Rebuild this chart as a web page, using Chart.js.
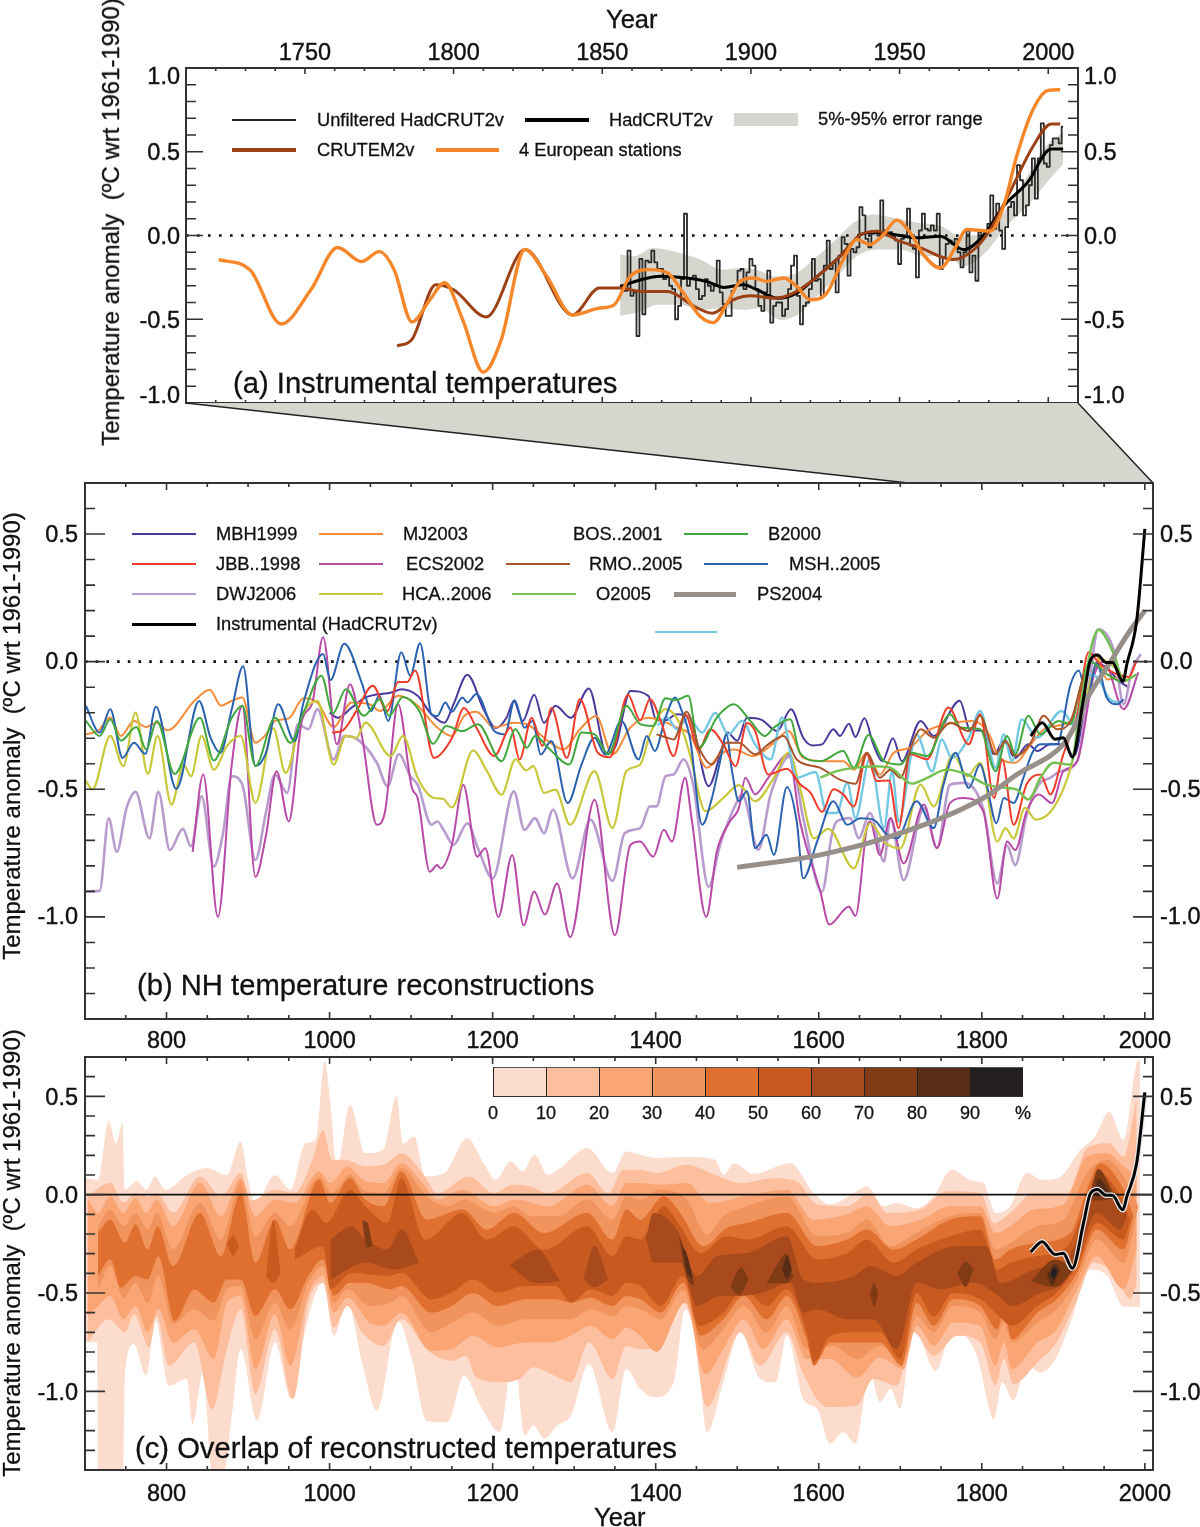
<!DOCTYPE html>
<html>
<head>
<meta charset="utf-8">
<script src="https://cdn.jsdelivr.net/npm/chart.js@4"></script>
<style>
  html, body { margin: 0; padding: 0; background: #fff; }
  #page { position: relative; width: 1200px; height: 1527px; overflow: hidden; font-family: "Liberation Sans", Arial, sans-serif; color: #111; }
  canvas { position: absolute; left: 0; }
  .txt { position: absolute; white-space: pre; line-height: 1; -webkit-text-stroke: 0.3px #111; }
  .key { position: absolute; }
</style>
</head>
<body>
<div id="page">
  <canvas id="panelA" width="1200" height="405" style="top:0"></canvas>
  <canvas id="panelB" width="1200" height="652" style="top:402px"></canvas>
  <canvas id="panelC" width="1200" height="477" style="top:1050px"></canvas>
</div>
<script>
const yearTicksTop = [1750, 1800, 1850, 1900, 1950, 2000];
const yearTicksBottom = [800, 1000, 1200, 1400, 1600, 1800, 2000];
const tempTicksA = [-1, -0.5, 0, 0.5, 1];
const tempTicksBC = [-1, -0.5, 0, 0.5];

// ---- panel (a) instrumental
const unfilteredStart = 1856;
const unfilteredHadcrut = [
  -.30,-.31,-.33,-.09,-.36,-.34,-.60,-.14,-.47,-.15,-.16,-.09,-.16,-.20,-.20,-.26,-.24,-.30,-.32,-.50,
  -.42,-.26,.13,-.30,-.26,-.24,-.32,-.38,-.36,-.26,-.30,-.33,-.30,-.15,-.34,-.41,-.48,-.48,-.33,-.30,
  -.21,-.20,-.32,-.22,-.14,-.18,-.32,-.42,-.45,-.34,-.21,-.52,-.42,-.40,-.40,-.48,-.44,-.32,-.18,-.12,
  -.36,-.53,-.42,-.40,-.32,-.14,-.27,-.26,-.36,-.18,-.03,-.20,-.16,-.34,-.12,-.01,-.05,-.24,-.08,-.10,
  -.07,.17,.12,-.02,-.07,.01,.02,.00,.21,.03,.00,.02,.00,-.03,-.17,-.02,.00,.16,-.06,-.08,
  -.25,.03,.13,.04,.03,.06,.03,.13,-.20,-.13,-.05,-.03,-.05,-.02,-.10,-.19,-.10,.03,-.22,-.12,
  -.27,.02,-.02,.03,.07,.24,.04,.19,.03,-.08,.05,.17,.20,.12,.42,.33,.12,.18,.30,.46,
  .22,.46,.67,.43,.41,.54,.58,.58,.55,.65
];
const hadcrutSmooth = [[1856,-.304],[1863,-.264],[1869.5,-.244],[1878.4,-.254],[1885,-.274],[1891,-.31],[1897.5,-.294],[1902,-.324],[1909,-.374],[1915.4,-.344],[1921,-.264],[1930,-.124],[1937,.006],[1941,.02],[1948,.006],[1956,-.014],[1963.7,-.004],[1971.5,-.084],[1978,-.004],[1985,.176],[1993,.316],[2001,.516],[2005,.516]];
const crutem = [[1781,-.66],[1786,-.62],[1794,-.294],[1800,-.324],[1811,-.486],[1824,-.084],[1840,-.474],[1849,-.314],[1856,-.314],[1863,-.334],[1872,-.334],[1881,-.424],[1887,-.464],[1894,-.384],[1900,-.36],[1908,-.374],[1914.3,-.344],[1921,-.264],[1930,-.124],[1937,.006],[1942.3,.026],[1950,-.034],[1957,-.074],[1968,-.144],[1975,-.084],[1980.5,.036],[1987,.256],[1995,.536],[2001,.666],[2004,.666]];
const europeanStations = [[1721,-.144],[1731.5,-.204],[1742,-.528],[1752,-.324],[1761,-.072],[1769,-.156],[1775,-.096],[1780,-.204],[1786,-.516],[1792,-.384],[1797,-.282],[1803,-.5],[1810,-.816],[1816,-.624],[1824,-.084],[1831,-.234],[1840,-.474],[1849,-.434],[1854,-.414],[1859.4,-.244],[1866,-.204],[1872,-.224],[1877.3,-.344],[1883,-.484],[1887.4,-.52],[1892,-.404],[1896.4,-.274],[1901,-.254],[1905.4,-.274],[1911,-.254],[1915.4,-.304],[1920,-.384],[1925.5,-.344],[1931,-.144],[1935.6,-.024],[1940,-.054],[1944.6,.006],[1949,.092],[1953.6,.016],[1958,-.114],[1963.7,-.194],[1969,-.064],[1972.6,.036],[1980.5,.026],[1985,.176],[1989.4,.476],[1995,.756],[2000,.866],[2004,.87]];
const errorUpper = [[1856,-.114],[1860.5,-.124],[1867,-.074],[1874,-.094],[1883,-.144],[1890,-.204],[1897.5,-.194],[1902,-.204],[1908,-.244],[1915.4,-.224],[1921,-.144],[1928,-.034],[1934.5,.076],[1941,.126],[1948,.106],[1956,.076],[1964,.056],[1970.4,-.004],[1978,.016],[1985,.136],[1993,.356],[1998.4,.516],[2005,.616]];
const errorLower = [[1856,-.48],[1863,-.454],[1868.4,-.414],[1876,-.414],[1883,-.444],[1890.8,-.434],[1897.5,-.444],[1903,-.434],[1910,-.504],[1916.5,-.464],[1921,-.384],[1928,-.264],[1935.6,-.124],[1942.3,-.084],[1950,-.084],[1958,-.124],[1966,-.124],[1971.5,-.184],[1979.3,-.094],[1986,.056],[1994,.196],[1999.5,.316],[2005,.426]];

// ---- panel (b) reconstructions
const mbh1999 = [[1000,-.2],[1010,-.22],[1027,-.18],[1044,-.14],[1077,-.12],[1088,-.108],[1108,-.134],[1125,-.206],[1141,-.239],[1152,-.167],[1169,-.051],[1189,-.187],[1204,-.26],[1217,-.22],[1226,-.154],[1237,-.232],[1251,-.13],[1263,-.24],[1277,-.173],[1296,-.22],[1318,-.105],[1340,-.363],[1351,-.33],[1369,-.115],[1391,-.134],[1401,-.23],[1412,-.23],[1426,-.206],[1442,-.22],[1465,-.488],[1479,-.365],[1488,-.278],[1500,-.31],[1512,-.22],[1530,-.228],[1549,-.272],[1566,-.186],[1581,-.298],[1592,-.328],[1604,-.324],[1618,-.265],[1626,-.291],[1637,-.243],[1645,-.295],[1656,-.222],[1667,-.324],[1678,-.39],[1691,-.3],[1702,-.39],[1725,-.232],[1741,-.291],[1773,-.153],[1786,-.27],[1800,-.27],[1815,-.363],[1827,-.311],[1841,-.377],[1857,-.324],[1868,-.35],[1884,-.324],[1900,-.324],[1913,-.37],[1929,-.14],[1945,-.01],[1970,-.08],[1980,-.1]];
const mj2003 = [[701,-.285],[716,-.271],[731,-.219],[744,-.291],[760,-.232],[775,-.256],[788,-.239],[801,-.269],[834,-.154],[853,-.11],[867,-.173],[876,-.16],[893,-.14],[909,-.318],[922,-.285],[933,-.232],[950,-.222],[968,-.143],[985,-.16],[1005,-.256],[1027,-.16],[1049,-.167],[1062,-.193],[1084,-.134],[1106,-.167],[1132,-.258],[1150,-.291],[1165,-.213],[1180,-.196],[1202,-.258],[1226,-.239],[1242,-.245],[1268,-.311],[1287,-.344],[1307,-.265],[1327,-.213],[1347,-.363],[1369,-.258],[1391,-.22],[1406,-.23],[1426,-.258],[1442,-.285],[1463,-.416],[1479,-.363],[1496,-.344],[1520,-.37],[1545,-.318],[1563,-.272],[1581,-.377],[1610,-.39],[1630,-.39],[1643,-.423],[1659,-.357],[1675,-.442],[1692,-.357],[1712,-.337],[1733,-.272],[1757,-.245],[1790,-.232],[1810,-.291],[1819,-.363],[1841,-.396],[1860,-.324],[1880,-.258],[1909,-.232],[1921,-.1],[1939,.03],[1954,-.07],[1970,-.06]];
const bos2001 = [[1402,-.25],[1414,-.219],[1426,-.265],[1440,-.219],[1457,-.278],[1473,-.2],[1489,-.285],[1506,-.232],[1522,-.324],[1541,-.383],[1555,-.219],[1573,-.455],[1596,-.432],[1610,-.593],[1622,-.593],[1635,-.475],[1645,-.613],[1663,-.377],[1680,-.652],[1690,-.429],[1698,-.626],[1720,-.285],[1739,-.43],[1751,-.305],[1763,-.377],[1784,-.298],[1798,-.193],[1817,-.416],[1827,-.285],[1837,-.39],[1849,-.226],[1868,-.298],[1898,-.193],[1913,-.245],[1929,-.05],[1941,-.06],[1958,-.15],[1970,-.16]];
const b2000 = [[701,-.232],[718,-.291],[731,-.226],[744,-.309],[763,-.256],[775,-.344],[788,-.232],[810,-.44],[841,-.22],[858,-.387],[880,-.22],[893,-.173],[909,-.409],[933,-.22],[952,-.318],[968,-.2],[990,-.055],[1004,-.203],[1020,-.108],[1042,-.212],[1062,-.147],[1073,-.212],[1090,-.138],[1110,-.193],[1127,-.322],[1143,-.252],[1163,-.272],[1182,-.245],[1211,-.39],[1228,-.265],[1242,-.337],[1252,-.291],[1268,-.337],[1294,-.403],[1309,-.278],[1325,-.285],[1342,-.363],[1364,-.173],[1381,-.245],[1397,-.252],[1412,-.143],[1424,-.151],[1440,-.134],[1453,-.337],[1475,-.219],[1496,-.167],[1516,-.232],[1534,-.291],[1545,-.258],[1565,-.226],[1577,-.357],[1602,-.39],[1630,-.35],[1643,-.416],[1661,-.287],[1680,-.39],[1700,-.403],[1714,-.357],[1733,-.37],[1761,-.206],[1774,-.258],[1798,-.265],[1817,-.429],[1831,-.291],[1841,-.363],[1857,-.212],[1872,-.285],[1894,-.232],[1909,-.245],[1921,-.1],[1933,0],[1954,-.05],[1970,-.08]];
const jbb1998 = [[1003,-.278],[1016,-.27],[1033,-.193],[1053,-.094],[1071,-.193],[1084,-.08],[1095,-.08],[1105,-.035],[1128,-.377],[1150,-.3],[1165,-.182],[1180,-.258],[1202,-.37],[1222,-.258],[1233,-.383],[1248,-.22],[1261,-.33],[1272,-.182],[1291,-.377],[1307,-.147],[1329,-.357],[1344,-.374],[1366,-.13],[1381,-.23],[1393,-.147],[1406,-.23],[1422,-.37],[1436,-.206],[1453,-.344],[1467,-.265],[1483,-.324],[1498,-.41],[1512,-.24],[1522,-.272],[1538,-.442],[1561,-.42],[1577,-.48],[1590,-.514],[1604,-.589],[1618,-.5],[1630,-.52],[1643,-.567],[1659,-.363],[1671,-.468],[1686,-.466],[1698,-.652],[1712,-.363],[1733,-.382],[1759,-.18],[1784,-.324],[1798,-.206],[1815,-.534],[1825,-.383],[1839,-.639],[1855,-.48],[1872,-.442],[1884,-.52],[1900,-.363],[1917,-.206],[1931,.037],[1945,-.01],[1966,-.05],[1980,-.06],[1990,.004]];
const ecs2002 = [[832,-.745],[845,-.442],[863,-1.0],[880,-.403],[893,-.173],[909,-.843],[922,-.68],[935,-.429],[950,-.626],[966,-.232],[979,-.16],[992,.096],[1009,-.324],[1025,-.088],[1040,-.298],[1058,-.639],[1068,-.587],[1084,-.167],[1101,-.495],[1108,-.534],[1123,-.823],[1132,-.797],[1136,-.81],[1150,-.718],[1164,-.482],[1181,-.764],[1191,-.731],[1207,-1.0],[1224,-.757],[1238,-1.033],[1251,-.9],[1264,-.991],[1279,-.869],[1295,-1.079],[1325,-.541],[1350,-1.072],[1369,-.718],[1381,-.705],[1397,-.764],[1410,-.659],[1420,-.705],[1436,-.455],[1444,-.613],[1462,-1.0],[1475,-.744],[1491,-.626],[1502,-.574],[1510,-.455],[1522,-.52],[1538,-.455],[1563,-.363],[1577,-.626],[1602,-.902],[1613,-1.03],[1637,-.96],[1645,-.996],[1659,-.652],[1663,-.626],[1675,-.757],[1688,-.613],[1704,-.79],[1729,-.56],[1745,-.73],[1761,-.554],[1778,-.534],[1802,-.587],[1819,-.928],[1831,-.705],[1841,-.738],[1855,-.587],[1870,-.52],[1886,-.554],[1900,-.43],[1917,-.39],[1937,-.06],[1950,.0],[1974,-.186],[1992,-.042]];
const rmo2005 = [[1401,-.285],[1414,-.298],[1422,-.305],[1438,-.196],[1453,-.337],[1469,-.403],[1487,-.318],[1502,-.318],[1522,-.363],[1538,-.324],[1557,-.291],[1573,-.383],[1602,-.416],[1626,-.462],[1645,-.478],[1659,-.357],[1675,-.455],[1688,-.423],[1700,-.455],[1716,-.311],[1725,-.265],[1741,-.298],[1761,-.239],[1784,-.272],[1798,-.212],[1817,-.363],[1829,-.311],[1841,-.37],[1860,-.318],[1876,-.212],[1892,-.265],[1909,-.232],[1925,-.05]];
const msh2005 = [[701,-.173],[718,-.278],[731,-.186],[746,-.377],[760,-.318],[774,-.361],[787,-.177],[812,-.499],[840,-.154],[854,-.298],[866,-.357],[880,-.186],[894,-.018],[909,-.409],[922,-.357],[937,-.167],[957,-.311],[968,-.16],[992,.03],[1001,-.072],[1018,.07],[1040,-.088],[1051,-.193],[1061,-.134],[1072,-.232],[1088,.037],[1099,-.055],[1111,.072],[1125,-.206],[1132,-.213],[1142,-.16],[1150,-.196],[1163,-.14],[1169,-.16],[1180,-.127],[1202,-.272],[1215,-.285],[1227,-.151],[1239,-.259],[1249,-.232],[1259,-.364],[1272,-.311],[1292,-.554],[1309,-.403],[1325,-.298],[1338,-.364],[1358,-.232],[1379,-.383],[1389,-.291],[1399,-.35],[1412,-.219],[1424,-.14],[1432,-.193],[1442,-.298],[1457,-.639],[1469,-.534],[1479,-.39],[1487,-.285],[1493,-.416],[1502,-.547],[1512,-.508],[1522,-.731],[1536,-.678],[1545,-.757],[1561,-.491],[1573,-.626],[1581,-.849],[1598,-.705],[1618,-.547],[1635,-.639],[1651,-.613],[1667,-.619],[1684,-.678],[1696,-.692],[1720,-.547],[1741,-.652],[1753,-.482],[1768,-.357],[1784,-.495],[1798,-.403],[1806,-.482],[1818,-.633],[1827,-.534],[1839,-.554],[1851,-.455],[1862,-.357],[1872,-.324],[1892,-.324],[1909,-.088],[1919,-.035],[1929,-.14],[1941,-.003],[1953,-.14],[1966,-.167],[1974,-.147]];
const dwj2006 = [[700,-.9],[718,-.898],[729,-.614],[739,-.745],[751,-.573],[762,-.51],[779,-.692],[790,-.51],[804,-.738],[820,-.655],[830,-.724],[843,-.527],[858,-.803],[869,-.678],[880,-.449],[893,-.482],[909,-.777],[922,-.59],[933,-.442],[948,-.514],[961,-.245],[974,-.265],[985,-.186],[1005,-.383],[1018,-.291],[1031,-.298],[1058,-.396],[1071,-.488],[1085,-.363],[1099,-.449],[1108,-.482],[1125,-.639],[1132,-.626],[1141,-.665],[1152,-.718],[1169,-.633],[1182,-.731],[1200,-.849],[1226,-.508],[1239,-.659],[1252,-.613],[1263,-.672],[1274,-.58],[1298,-.849],[1320,-.619],[1347,-.859],[1362,-.672],[1381,-.652],[1393,-.567],[1401,-.567],[1412,-.449],[1422,-.442],[1434,-.383],[1446,-.482],[1465,-.882],[1479,-.718],[1500,-.547],[1506,-.52],[1526,-.737],[1541,-.52],[1565,-.37],[1581,-.613],[1604,-.902],[1616,-.679],[1622,-.626],[1639,-.613],[1649,-.692],[1663,-.593],[1680,-.783],[1688,-.613],[1704,-.856],[1729,-.573],[1745,-.73],[1761,-.482],[1778,-.475],[1802,-.58],[1819,-.869],[1831,-.72],[1841,-.797],[1855,-.6],[1870,-.48],[1884,-.455],[1896,-.43],[1917,-.39],[1931,-.1],[1943,.127],[1962,.043],[1974,-.167],[1984,-.035],[1995,.03]];
const hca2006 = [[701,-.466],[709,-.501],[731,-.291],[747,-.409],[762,-.2],[777,-.44],[789,-.291],[806,-.56],[821,-.403],[830,-.449],[843,-.291],[858,-.423],[874,-.331],[891,-.291],[909,-.554],[931,-.261],[946,-.436],[966,-.213],[985,-.154],[1005,-.403],[1020,-.291],[1033,-.298],[1044,-.239],[1075,-.37],[1090,-.291],[1108,-.455],[1128,-.534],[1139,-.537],[1150,-.571],[1176,-.348],[1193,-.429],[1211,-.521],[1228,-.383],[1241,-.426],[1250,-.409],[1263,-.514],[1277,-.501],[1295,-.639],[1325,-.429],[1347,-.652],[1364,-.429],[1381,-.403],[1393,-.285],[1412,-.186],[1430,-.245],[1442,-.363],[1461,-.586],[1483,-.534],[1502,-.484],[1522,-.547],[1545,-.455],[1563,-.357],[1577,-.495],[1594,-.692],[1612,-.655],[1643,-.81],[1663,-.633],[1682,-.711],[1700,-.731],[1725,-.482],[1741,-.567],[1765,-.363],[1782,-.449],[1798,-.396],[1819,-.705],[1829,-.652],[1839,-.692],[1853,-.573],[1866,-.619],[1888,-.573],[1909,-.416],[1929,-.127],[1945,.01],[1962,-.02],[1978,-.08]];
const o2005 = [[1602,-.454],[1622,-.429],[1643,-.416],[1667,-.41],[1688,-.416],[1714,-.478],[1733,-.455],[1757,-.423],[1782,-.442],[1806,-.482],[1831,-.495],[1843,-.501],[1857,-.54],[1872,-.455],[1888,-.396],[1909,-.403],[1921,-.167],[1943,.125],[1962,.03],[1974,-.075],[1990,-.05]];
const ps2004 = [[1500,-.806],[1602,-.757],[1700,-.672],[1802,-.534],[1843,-.442],[1900,-.324],[1913,-.259],[1930,-.14],[1954,-.02],[1982,.122],[2000,.2]];
const instrumental = [[1860,-.291],[1874,-.239],[1890,-.304],[1900,-.298],[1911,-.374],[1925,-.14],[1933,.004],[1942,.026],[1952,-.003],[1960,-.003],[1973,-.077],[1978,-.009],[1990,.161],[2000,.52]];

// ---- panel (c) overlap contours, one upper and one lower edge per level
const overlapHi1 = [[700,.084],[716,.076],[729,.375],[738,.26],[746,.36],[749,.025],[764,.068],[775,.025],[786,.093],[799,.025],[825,.10],[849,.135],[874,.10],[891,.27],[900,.076],[909,-.043],[933,.10],[952,.025],[970,.26],[983,.28],[994,.68],[1001,.465],[1009,.127],[1025,.456],[1044,.21],[1066,.228],[1082,.5],[1090,.26],[1104,.296],[1117,.093],[1141,.11],[1169,.287],[1189,.16],[1204,.076],[1222,.169],[1237,.118],[1251,.203],[1268,.10],[1283,.135],[1316,.236],[1347,.11],[1364,.22],[1381,.203],[1401,.186],[1436,.191],[1473,.177],[1483,.10],[1496,.16],[1520,.106],[1565,.16],[1594,.008],[1614,-.05],[1643,.008],[1659,.042],[1680,-.06],[1696,-.042],[1720,-.068],[1741,-.008],[1763,.127],[1790,.068],[1802,.059],[1817,-.093],[1835,-.059],[1855,.11],[1874,.076],[1894,.084],[1921,.228],[1939,.296],[1956,.42],[1974,.279],[1992,.684],[1994,.68]];
const overlapLo1 = [[700,-.75],[715,-.75],[716,-1.4],[747,-1.4],[749,-.904],[760,-.76],[775,-.92],[786,-.633],[803,-.971],[825,-.937],[832,-1.166],[845,-.9],[856,-1.4],[871,-1.4],[880,-1.123],[891,-.785],[911,-1.149],[933,-.752],[953,-1.04],[965,-.785],[992,-.448],[1005,-.718],[1022,-.549],[1040,-.853],[1058,-1.098],[1084,-.642],[1101,-.836],[1119,-1.149],[1145,-1.157],[1165,-.92],[1185,-1.073],[1209,-1.208],[1226,-.794],[1239,-1.225],[1250,-1.174],[1263,-1.242],[1279,-1.174],[1296,-1.123],[1318,-.861],[1347,-1.208],[1364,-.887],[1381,-.988],[1399,-1.03],[1422,-.956],[1436,-.583],[1451,-.785],[1463,-1.208],[1483,-.954],[1504,-.70],[1528,-.937],[1547,-.954],[1561,-.718],[1581,-1.04],[1598,-1.09],[1614,-1.267],[1630,-1.208],[1645,-1.267],[1663,-.904],[1675,-1.056],[1688,-.988],[1700,-1.09],[1716,-.667],[1743,-.895],[1765,-.684],[1794,-.819],[1815,-1.14],[1825,-.954],[1839,-1.047],[1855,-.87],[1872,-.904],[1888,-.853],[1909,-.65],[1933,-.38],[1954,-.414],[1974,-.57],[1994,-.57]];
const overlapHi2 = [[703,-.01],[731,.06],[747,-.04],[762,.008],[777,-.01],[788,.008],[808,-.09],[841,.093],[867,-.008],[891,.11],[904,-.03],[933,.025],[957,.008],[979,.177],[992,.33],[1003,.177],[1018,.177],[1044,.144],[1066,.152],[1088,.211],[1114,.11],[1132,.008],[1171,.093],[1202,.008],[1224,.05],[1246,.042],[1268,.008],[1316,.11],[1342,.008],[1360,.127],[1381,.127],[1401,.11],[1438,.152],[1473,.10],[1504,.059],[1545,.084],[1573,.068],[1598,-.05],[1635,-.059],[1663,.008],[1684,-.093],[1725,-.076],[1757,.017],[1798,.008],[1815,-.144],[1835,-.093],[1864,.008],[1905,.008],[1929,.236],[1956,.262],[1974,.194],[1990,.498]];
const overlapLo2 = [[703,-.75],[729,-.633],[749,-.70],[760,-.608],[779,-.777],[788,-.617],[803,-.87],[834,-.75],[856,-1.09],[874,-.785],[891,-.583],[909,-1.014],[933,-.684],[955,-1.039],[974,-.549],[992,-.448],[1005,-.676],[1022,-.566],[1040,-.70],[1066,-.769],[1088,-.633],[1121,-.794],[1150,-.845],[1167,-.82],[1180,-.93],[1211,-.954],[1233,-.937],[1250,-.878],[1272,-.912],[1296,-.954],[1318,-.75],[1347,-.937],[1364,-.769],[1381,-.785],[1401,-.785],[1438,-.541],[1463,-1.08],[1504,-.70],[1528,-.87],[1561,-.70],[1581,-.912],[1610,-1.08],[1647,-1.073],[1667,-.937],[1696,-.971],[1716,-.70],[1741,-.819],[1770,-.718],[1798,-.752],[1817,-.97],[1827,-.836],[1839,-.963],[1868,-.853],[1892,-.75],[1917,-.532],[1937,-.346],[1962,-.4],[1982,-.53],[1990,-.45]];
const overlapHi3 = [[703,-.02],[716,-.093],[731,-.008],[747,-.093],[762,-.017],[775,-.093],[788,-.025],[808,-.16],[841,.059],[867,-.110],[891,.084],[909,-.110],[933,-.025],[957,-.042],[987,.118],[1001,.059],[1022,.143],[1044,.068],[1066,.059],[1088,.16],[1114,.059],[1132,-.025],[1163,.025],[1202,-.059],[1228,-.025],[1268,-.059],[1316,.05],[1347,-.059],[1364,.059],[1381,.059],[1406,.05],[1438,.059],[1467,-.042],[1508,-.008],[1561,.025],[1594,-.127],[1635,-.10],[1659,-.059],[1688,-.16],[1725,-.127],[1761,-.059],[1798,-.059],[1817,-.194],[1835,-.16],[1864,-.076],[1900,-.05],[1929,.194],[1954,.211],[1974,.144],[1990,.093]];
const overlapLo3 = [[703,-.62],[716,-.566],[731,-.515],[747,-.633],[762,-.566],[777,-.70],[790,-.583],[808,-.752],[834,-.684],[858,-.836],[874,-.549],[891,-.515],[909,-.887],[933,-.608],[952,-.87],[974,-.507],[992,-.414],[1005,-.60],[1022,-.524],[1049,-.65],[1066,-.667],[1088,-.60],[1125,-.794],[1150,-.785],[1176,-.718],[1206,-.777],[1241,-.752],[1272,-.752],[1296,-.718],[1320,-.667],[1347,-.735],[1364,-.676],[1381,-.718],[1401,-.80],[1436,-.55],[1461,-.912],[1483,-.785],[1508,-.634],[1532,-.785],[1561,-.634],[1585,-.836],[1614,-.836],[1647,-.93],[1675,-.828],[1704,-.887],[1720,-.667],[1741,-.769],[1765,-.65],[1798,-.667],[1817,-.87],[1827,-.752],[1837,-.887],[1868,-.752],[1892,-.684],[1917,-.481],[1941,-.313],[1974,-.48],[1990,-.28]];
const overlapHi4 = [[716,-.16],[731,-.076],[747,-.16],[762,-.093],[777,-.177],[788,-.093],[808,-.279],[841,-.042],[867,-.228],[891,.059],[909,-.211],[933,-.093],[952,-.16],[987,.093],[1003,.008],[1025,.101],[1044,.017],[1066,.008],[1088,.135],[1119,-.008],[1145,-.059],[1165,-.025],[1202,-.093],[1226,-.059],[1246,-.110],[1281,-.110],[1316,-.025],[1347,-.127],[1364,-.008],[1381,-.025],[1406,.025],[1438,-.025],[1463,-.203],[1483,-.11],[1512,-.059],[1561,-.008],[1598,-.211],[1635,-.194],[1659,-.127],[1688,-.262],[1720,-.194],[1761,-.11],[1798,-.093],[1817,-.279],[1835,-.245],[1868,-.16],[1900,-.127],[1929,.11],[1954,.177],[1974,.093],[1992,-.059]];
const overlapLo4 = [[716,-.481],[731,-.363],[747,-.524],[762,-.448],[777,-.55],[790,-.414],[808,-.659],[834,-.583],[858,-.642],[874,-.481],[891,-.465],[909,-.735],[933,-.549],[952,-.684],[974,-.448],[992,-.363],[1005,-.55],[1022,-.481],[1049,-.566],[1075,-.549],[1088,-.515],[1125,-.70],[1150,-.65],[1176,-.60],[1206,-.667],[1241,-.634],[1272,-.634],[1296,-.634],[1320,-.583],[1347,-.617],[1364,-.566],[1381,-.583],[1406,-.634],[1434,-.485],[1457,-.786],[1483,-.684],[1508,-.566],[1536,-.70],[1561,-.566],[1585,-.786],[1618,-.77],[1647,-.836],[1675,-.769],[1704,-.836],[1720,-.617],[1741,-.70],[1765,-.566],[1798,-.60],[1817,-.735],[1827,-.65],[1837,-.752],[1868,-.65],[1892,-.583],[1917,-.432],[1941,-.228],[1974,-.346],[1992,-.059]];
const overlapHi5 = [[716,-.194],[731,-.127],[749,-.245],[762,-.152],[777,-.279],[789,-.16],[808,-.363],[841,-.093],[867,-.313],[891,.008],[909,-.346],[933,-.127],[952,-.279],[987,.076],[1001,-.042],[1025,.084],[1044,-.025],[1066,-.059],[1088,.118],[1119,-.127],[1163,-.076],[1193,-.177],[1226,-.093],[1263,-.194],[1316,-.093],[1347,-.228],[1364,-.076],[1381,-.127],[1410,-.008],[1430,-.093],[1459,-.262],[1487,-.169],[1512,-.144],[1561,-.093],[1598,-.262],[1635,-.228],[1659,-.177],[1692,-.279],[1720,-.228],[1761,-.127],[1798,-.11],[1817,-.33],[1835,-.279],[1868,-.245],[1909,-.194],[1929,.025],[1945,.160],[1974,.025],[1986,-.11]];
const overlapLo5 = [[716,-.414],[731,-.329],[744,-.473],[762,-.414],[777,-.431],[790,-.313],[810,-.642],[834,-.482],[858,-.549],[874,-.431],[891,-.431],[909,-.617],[933,-.481],[952,-.583],[974,-.414],[992,-.329],[1005,-.515],[1025,-.448],[1044,-.448],[1075,-.481],[1088,-.465],[1125,-.60],[1150,-.566],[1176,-.50],[1206,-.566],[1241,-.532],[1277,-.532],[1296,-.549],[1320,-.524],[1347,-.566],[1364,-.515],[1381,-.532],[1406,-.60],[1434,-.448],[1455,-.718],[1483,-.634],[1508,-.515],[1536,-.634],[1561,-.515],[1585,-.735],[1594,-.87],[1614,-.752],[1647,-.752],[1675,-.752],[1702,-.87],[1720,-.55],[1741,-.667],[1765,-.532],[1798,-.566],[1819,-.684],[1827,-.60],[1837,-.735],[1868,-.60],[1892,-.532],[1917,-.397],[1941,-.177],[1974,-.279],[1986,-.11]];
const overlapHi6 = [[957,-.279],[979,-.076],[996,-.144],[1025,.025],[1044,-.059],[1071,-.144],[1088,.084],[1117,-.228],[1163,-.093],[1193,-.228],[1226,-.16],[1263,-.279],[1316,-.16],[1347,-.313],[1364,-.211],[1381,-.228],[1410,-.059],[1430,-.16],[1455,-.296],[1487,-.211],[1512,-.228],[1561,-.16],[1598,-.329],[1635,-.296],[1659,-.228],[1692,-.346],[1720,-.279],[1761,-.211],[1798,-.177],[1819,-.38],[1835,-.346],[1868,-.312],[1905,-.262],[1929,-.025],[1943,.11],[1970,-.008],[1982,-.127]];
const overlapLo6 = [[957,-.33],[992,-.262],[1001,-.48],[1027,-.397],[1071,-.414],[1088,-.397],[1125,-.532],[1150,-.498],[1176,-.431],[1206,-.498],[1241,-.465],[1277,-.465],[1296,-.549],[1320,-.481],[1347,-.515],[1364,-.448],[1381,-.465],[1406,-.566],[1434,-.414],[1453,-.667],[1483,-.60],[1508,-.481],[1536,-.566],[1561,-.481],[1585,-.70],[1594,-.853],[1614,-.718],[1647,-.70],[1675,-.70],[1700,-.836],[1720,-.50],[1741,-.62],[1765,-.50],[1798,-.532],[1821,-.617],[1837,-.667],[1868,-.566],[1892,-.498],[1917,-.363],[1941,-.144],[1974,-.228],[1982,-.127]];
const overlapHi7 = [[1388,-.22],[1397,-.093],[1426,-.178],[1451,-.414],[1475,-.312],[1512,-.296],[1561,-.211],[1581,-.431],[1602,-.448],[1643,-.414],[1663,-.363],[1696,-.414],[1720,-.346],[1770,-.262],[1806,-.262],[1823,-.448],[1864,-.38],[1909,-.296],[1929,-.076],[1943,.093],[1966,-.008],[1978,-.11]];
const overlapLo7 = [[1388,-.22],[1397,-.346],[1430,-.346],[1451,-.566],[1479,-.515],[1504,-.515],[1532,-.498],[1565,-.448],[1581,-.60],[1598,-.583],[1635,-.634],[1667,-.634],[1696,-.786],[1720,-.448],[1749,-.481],[1790,-.448],[1815,-.498],[1837,-.566],[1872,-.50],[1900,-.448],[1917,-.33],[1941,-.093],[1970,-.177],[1978,-.11]];
// small closed patches of a level, [level index, upper edge, lower edge]
const overlapPatches = [
  [5, [[874,-.25],[882,-.21],[889,-.26]], [[874,-.25],[882,-.31],[889,-.26]]],
  [5, [[922,-.42],[931,-.13],[940,-.40]], [[922,-.42],[931,-.45],[940,-.40]]],
  [6, [[1001,-.228],[1027,-.16],[1044,-.228],[1071,-.279],[1088,-.177],[1110,-.346]], [[1001,-.431],[1044,-.346],[1079,-.38],[1110,-.346]]],
  [6, [[1220,-.36],[1255,-.28],[1283,-.44]], [[1220,-.36],[1255,-.45],[1283,-.44]]],
  [6, [[1311,-.43],[1325,-.26],[1342,-.43]], [[1311,-.43],[1325,-.47],[1342,-.43]]],
  [7, [[1040,-.13],[1046,-.14],[1053,-.26]], [[1040,-.13],[1046,-.27],[1053,-.26]]],
  [7, [[1428,-.2],[1438,-.32],[1448,-.465]], [[1428,-.2],[1438,-.42],[1448,-.465]]],
  [7, [[1491,-.47],[1505,-.37],[1514,-.43]], [[1491,-.47],[1503,-.51],[1514,-.43]]],
  [7, [[1536,-.45],[1561,-.30],[1569,-.42]], [[1536,-.45],[1561,-.45],[1569,-.42]]],
  [7, [[1663,-.50],[1668,-.45],[1673,-.50]], [[1663,-.50],[1668,-.57],[1673,-.50]]],
  [7, [[1770,-.40],[1780,-.34],[1790,-.38]], [[1770,-.40],[1780,-.47],[1790,-.38]]],
  [7, [[1860,-.44],[1890,-.33],[1913,-.38]], [[1860,-.44],[1890,-.47],[1913,-.38]]],
  [7, [[1931,-.03],[1943,.13],[1964,-.02]], [[1931,-.03],[1945,-.03],[1964,-.02]]],
  [8, [[1432,-.26],[1438,-.3],[1446,-.43]], [[1432,-.26],[1438,-.39],[1446,-.43]]],
  [8, [[1555,-.38],[1561,-.31],[1567,-.38]], [[1555,-.38],[1561,-.43],[1567,-.38]]],
  [8, [[1880,-.41],[1890,-.35],[1896,-.38]], [[1880,-.41],[1886,-.46],[1896,-.38]]],
  [8, [[1937,.0],[1943,.08],[1960,.0]], [[1937,.0],[1945,.0],[1960,.0]]],
  [9, [[1884,-.4],[1889,-.37],[1893,-.39]], [[1884,-.4],[1888,-.43],[1893,-.39]]]
];

const overlapColors = ['#fcdccc','#fdbe9e','#f9a574','#f0935c','#e07030','#c85a20','#a84a1c','#803a14','#582d18','#231f20'];
const colorbarLabels = ['0','10','20','30','40','50','60','70','80','90','%'];

// -------- helpers
const toPts = arr => arr.map(([x, y]) => ({ x, y }));

function line(arr, color, width, extra = {}) {
  return {
    data: toPts(arr), borderColor: color, backgroundColor: color, borderWidth: width,
    pointRadius: 0, fill: false, cubicInterpolationMode: 'monotone', ...extra
  };
}

// later entries draw on top
const stack = sets => sets.map((d, i) => ({ ...d, order: sets.length - i }));

function zeroLine(xMin, xMax, width, extra) {
  return line([[xMin, 0], [xMax, 0]], '#111', width, { cubicInterpolationMode: 'default', ...extra });
}

// inward tick marks + frame, Chart.js ticks only go outward and have one length
const framePlugin = {
  id: 'frame',
  afterDraw(chart, args, o) {
    const { ctx, chartArea: a, scales } = chart;
    ctx.save();
    ctx.strokeStyle = '#333';
    ctx.lineWidth = 1.6;
    const sx = scales.x, sy = scales.y;
    for (let v = sx.min; v <= sx.max; v += o.xMinor) {
      const px = sx.getPixelForValue(v);
      const len = v % o.xMajor === 0 ? o.xMajorLen : o.xMinorLen;
      ctx.beginPath();
      ctx.moveTo(px, a.top); ctx.lineTo(px, a.top + len);
      ctx.moveTo(px, a.bottom); ctx.lineTo(px, a.bottom - len);
      ctx.stroke();
    }
    for (let i = 0; sy.min + i * 0.1 <= sy.max + 1e-6; i++) {
      const v = sy.min + i * 0.1;
      const isMajor = Math.abs(v * 2 - Math.round(v * 2)) < 1e-6;
      const len = isMajor ? o.yMajorLen : o.yMinorLen;
      const py = sy.getPixelForValue(v);
      ctx.beginPath();
      ctx.moveTo(a.left, py); ctx.lineTo(a.left + len, py);
      ctx.moveTo(a.right, py); ctx.lineTo(a.right - len, py);
      ctx.stroke();
    }
    ctx.lineWidth = 2;
    ctx.strokeRect(a.left, a.top, a.right - a.left, a.bottom - a.top);
    ctx.restore();
  }
};

// nudge y labels onto their ticks; the extreme labels of panel (a) sit inside the axis range
const nudgeLabels = {
  id: 'nudgeLabels',
  beforeDraw(chart, args, o) {
    if (chart.$nudged) return;
    chart.$nudged = true;
    ['y', 'yR'].forEach(id => {
      const items = chart.scales[id].getLabelItems();
      items.forEach(it => { it.options.translation[1] += o.all; });
      items[0].options.translation[1] -= o.ends;
      items[items.length - 1].options.translation[1] += o.ends;
    });
  }
};

const noOverflow = s => { s.paddingLeft = s.paddingRight = s.paddingTop = s.paddingBottom = 0; };

function panelOptions(c) {
  const tickFont = { family: '"Liberation Sans", Arial, sans-serif', size: 23.5 };
  const hidden = { display: false, drawTicks: false };
  const yAxis = (position, width) => ({
    type: 'linear', position, min: c.yMin, max: c.yMax,
    grid: hidden, border: { display: false },
    ticks: { color: '#111', font: tickFont, padding: c.yPad, textStrokeColor: '#111', textStrokeWidth: 0.4, callback: v => v.toFixed(1) },
    afterBuildTicks: s => { s.ticks = c.yTicks.map(value => ({ value })); },
    afterFit: s => { s.width = width; noOverflow(s); }
  });
  return {
    responsive: false, animation: false,
    layout: { padding: { top: c.padTop || 0, bottom: c.padBottom || 0, left: 0, right: 0 } },
    plugins: { legend: { display: false }, tooltip: { enabled: false }, frame: c.frame, nudgeLabels: c.nudge },
    elements: { line: { borderCapStyle: 'butt', borderJoinStyle: 'round' } },
    scales: {
      x: {
        type: 'linear', position: c.xPos, min: c.xMin, max: c.xMax,
        grid: hidden, border: { display: false },
        ticks: { autoSkip: false, maxRotation: 0, color: '#111', font: tickFont, padding: c.xPad, textStrokeColor: '#111', textStrokeWidth: 0.4, callback: v => String(v) },
        afterBuildTicks: s => { s.ticks = c.xTicks.map(value => ({ value })); },
        afterFit: s => { s.height = c.xHeight; noOverflow(s); }
      },
      y: yAxis('left', c.leftW),
      yR: yAxis('right', c.rightW)
    }
  };
}

// -------- panel (a)
const chartA = new Chart(document.getElementById('panelA'), {
  type: 'line',
  data: {
    datasets: stack([
      line(errorLower, '#d6d6ce', 0),
      line(errorUpper, '#d6d6ce', 0, { fill: '-1' }),
      zeroLine(1710, 2010, 2.6, { borderDash: [2.6, 8.4] }),
      {
        data: unfilteredHadcrut.map((y, i) => ({ x: unfilteredStart + i, y })),
        borderColor: '#2a2a2a', borderWidth: 1.8, pointRadius: 0, stepped: 'middle', fill: false
      },
      line(hadcrutSmooth, '#000', 3),
      line(crutem, '#9c4016', 3),
      line(europeanStations, '#f5872a', 3.4)
    ])
  },
  options: panelOptions({
    xMin: 1710, xMax: 2010, xTicks: yearTicksTop, xPos: 'top', xHeight: 68, xPad: 0,
    yMin: -1, yMax: 1, yTicks: tempTicksA, yPad: 6, leftW: 186, rightW: 122, padBottom: 2,
    nudge: { all: 2, ends: 8 },
    frame: { xMinor: 10, xMajor: 50, xMajorLen: 6, xMinorLen: 3, yMajorLen: 17, yMinorLen: 10 }
  }),
  plugins: [framePlugin, nudgeLabels]
});

// -------- panel (b)
const wedgePlugin = {
  id: 'wedge',
  beforeDraw(chart) {
    const { ctx, chartArea: a, scales: { x } } = chart;
    const topA = chartA.chartArea;
    const xl = x.getPixelForValue(1710), xr = x.getPixelForValue(2010);
    ctx.save();
    ctx.fillStyle = '#d6d6ce';
    ctx.beginPath();
    ctx.moveTo(topA.left, 1); ctx.lineTo(topA.right, 1); ctx.lineTo(xr, a.top); ctx.lineTo(xl, a.top);
    ctx.closePath();
    ctx.fill();
    ctx.strokeStyle = '#222';
    ctx.lineWidth = 1.5;
    ctx.beginPath();
    ctx.moveTo(topA.left, 1); ctx.lineTo(xl, a.top);
    ctx.moveTo(topA.right, 1); ctx.lineTo(xr, a.top);
    ctx.stroke();
    ctx.restore();
  }
};

new Chart(document.getElementById('panelB'), {
  type: 'line',
  data: {
    datasets: stack([
      zeroLine(700, 2010, 2.6, { borderDash: [2.6, 8.1] }),
      line(mbh1999, '#4b3a9e', 2),
      line(mj2003, '#f58c3c', 2),
      line(dwj2006, '#b99cce', 2.6),
      line(ecs2002, '#b84aa8', 2),
      line(hca2006, '#c9c83a', 2.2),
      line(bos2001, '#74c8e2', 2.4),
      line(msh2005, '#2a62b0', 2),
      line(jbb1998, '#f03c2a', 2),
      line(b2000, '#40a83c', 2),
      line(rmo2005, '#a8552c', 2),
      line(o2005, '#74c050', 2.4),
      line(ps2004, '#968f8a', 5),
      line(instrumental, '#000', 3)
    ])
  },
  options: panelOptions({
    xMin: 700, xMax: 2010, xTicks: yearTicksBottom, xPos: 'bottom', xHeight: 35, xPad: 8,
    yMin: -1.4, yMax: 0.7, yTicks: tempTicksBC, yPad: 7, leftW: 85, rightW: 47, padTop: 81,
    nudge: { all: 1, ends: 0 },
    frame: { xMinor: 50, xMajor: 200, xMajorLen: 7, xMinorLen: 4, yMajorLen: 20, yMinorLen: 10 }
  }),
  plugins: [wedgePlugin, framePlugin, nudgeLabels]
});

// -------- panel (c)
const overlapEdges = [
  [overlapLo1, overlapHi1], [overlapLo2, overlapHi2], [overlapLo3, overlapHi3], [overlapLo4, overlapHi4],
  [overlapLo5, overlapHi5], [overlapLo6, overlapHi6], [overlapLo7, overlapHi7]
];

function band(lo, hi, color) {
  return [line(lo, color, 0), line(hi, color, 0, { fill: '-1' })];
}

new Chart(document.getElementById('panelC'), {
  type: 'line',
  data: {
    datasets: stack([
      ...overlapEdges.flatMap(([lo, hi], i) => band(lo, hi, overlapColors[i])),
      ...overlapPatches.flatMap(([level, hi, lo]) => band(lo, hi, overlapColors[level])),
      zeroLine(700, 2010, 1.8),
      line(instrumental, '#e8e8e8', 5.5),
      line(instrumental, '#000', 3)
    ])
  },
  options: panelOptions({
    xMin: 700, xMax: 2010, xTicks: yearTicksBottom, xPos: 'bottom', xHeight: 57, xPad: 10,
    yMin: -1.4, yMax: 0.7, yTicks: tempTicksBC, yPad: 7, leftW: 85, rightW: 47, padTop: 7,
    nudge: { all: 2, ends: 0 },
    frame: { xMinor: 50, xMajor: 200, xMajorLen: 7, xMinorLen: 4, yMajorLen: 20, yMinorLen: 10 }
  }),
  plugins: [framePlugin, nudgeLabels]
});

// -------- text and legends
const page = document.getElementById('page');

function text(str, x, y, size, rotate) {
  const el = document.createElement('div');
  el.className = 'txt';
  el.textContent = str;
  el.style.left = x + 'px';
  el.style.top = y + 'px';
  el.style.fontSize = size + 'px';
  el.style.transform = rotate ? 'translate(-50%,-50%) rotate(-90deg)' : 'translateY(-50%)';
  page.appendChild(el);
  return el;
}

function legendKey(x1, x2, y, color, h) {
  const el = document.createElement('div');
  el.className = 'key';
  el.style.cssText = `left:${x1}px;width:${x2 - x1}px;top:${y - h / 2}px;height:${h}px;background:${color}`;
  page.appendChild(el);
}

const yTitle = 'Temperature anomaly  (\u00baC wrt 1961-1990)';
text(yTitle, 111, 222, 24, true);
text(yTitle, 12, 736, 24, true);
text(yTitle, 12, 1253, 24, true);

text('Year', 606, 20, 25.5);
text('Year', 594, 1518, 25.5);
text('(a) Instrumental temperatures', 233, 384, 29.2);
text('(b) NH temperature reconstructions', 137, 986, 29.2);
text('(c) Overlap of reconstructed temperatures', 135, 1449, 29.2);

// [label, label x, key start, key end, row y, colour, key thickness]
const legendA = [
  ['Unfiltered HadCRUT2v', 317, 232, 296, 120, '#222', 1.5],
  ['HadCRUT2v', 609, 525, 589, 120, '#000', 3.5],
  ['5%-95% error range', 818, 734, 798, 119, '#d6d6ce', 13],
  ['CRUTEM2v', 317, 232, 296, 150, '#9c4016', 3.5],
  ['4 European stations', 519, 436, 499, 150, '#f5872a', 3.5]
];
const legendB = [
  ['MBH1999', 216, 132, 196, 534, '#4b3a9e', 2],
  ['MJ2003', 403, 319, 383, 534, '#f58c3c', 2],
  ['BOS..2001', 573, 655, 717, 632, '#74c8e2', 2.5],
  ['B2000', 768, 684, 748, 534, '#40a83c', 2],
  ['JBB..1998', 216, 132, 196, 564, '#f03c2a', 2],
  ['ECS2002', 406, 319, 383, 564, '#b84aa8', 2],
  ['RMO..2005', 589, 506, 570, 564, '#a8552c', 2],
  ['MSH..2005', 789, 704, 768, 564, '#2a62b0', 2],
  ['DWJ2006', 216, 132, 196, 594, '#b99cce', 2.6],
  ['HCA..2006', 402, 319, 383, 594, '#c9c83a', 2.2],
  ['O2005', 596, 512, 576, 594, '#74c050', 2.5],
  ['PS2004', 757, 674, 736, 594, '#968f8a', 5],
  ['Instrumental (HadCRUT2v)', 216, 132, 196, 624, '#000', 3]
];
[...legendA, ...legendB].forEach(([label, lx, k1, k2, y, color, h]) => {
  legendKey(k1, k2, y, color, h);
  const labelY = label === 'BOS..2001' ? 534 : y;
  text(label, lx, labelY, 18.3);
});

// colour bar of panel (c)
const barLeft = 493, barCell = 53, barTop = 1067, barH = 30;
overlapColors.forEach((color, i) => {
  const el = document.createElement('div');
  el.className = 'key';
  el.style.cssText = `left:${barLeft + i * barCell}px;width:${barCell}px;top:${barTop}px;height:${barH}px;background:${color};box-sizing:border-box;border-left:1.6px solid #222;border-top:0.6px solid #555;border-bottom:1.4px solid #333`;
  page.appendChild(el);
});
colorbarLabels.forEach((label, i) => {
  const el = text(label, barLeft + i * barCell, 1113, 18);
  el.style.transform = 'translate(-50%,-50%)';
});
</script>
</body>
</html>
